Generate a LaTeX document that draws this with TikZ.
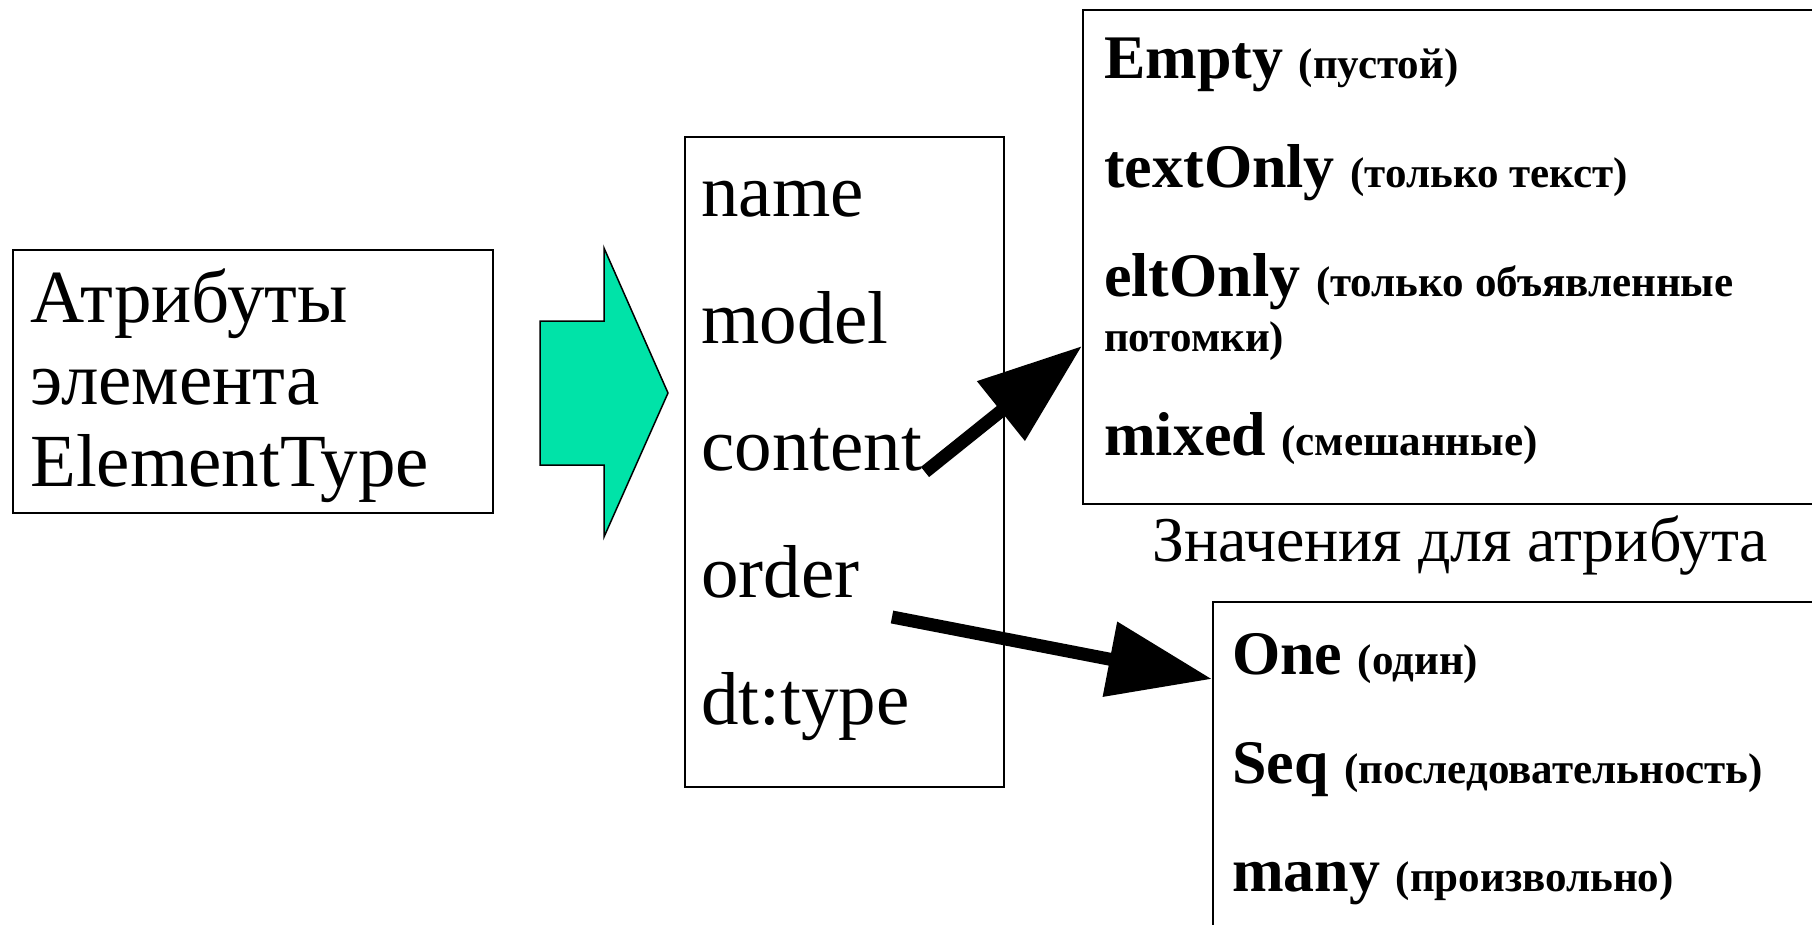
\documentclass[tikz,border=0pt]{standalone}
\usepackage{fontspec}
\setmainfont{Liberation Serif}
\usetikzlibrary{arrows.meta}
\definecolor{arrowgreen}{RGB}{0,227,168}
\newcommand\valbig{\fontsize{62}{68}\selectfont\bfseries}
\newcommand\valsmall{\fontsize{43}{48}\selectfont\bfseries}
\begin{document}
\begin{tikzpicture}[x=1pt,y=-1pt,
  box/.style={draw=black, line width=2pt, inner sep=0pt, anchor=north west},
  reg/.style={anchor=base west, inner sep=0pt, font=\fontsize{75}{80}\selectfont},
  captiontext/.style={anchor=base west, inner sep=0pt, font=\fontsize{63.8}{70}\selectfont},
  val/.style={anchor=base west, inner sep=0pt},
  fat/.style={line width=13pt, -{Triangle[length=104pt,width=73pt]}},
  bigarrow/.style={fill=arrowgreen, draw=black, line width=1.5pt, line join=miter}
]
\useasboundingbox (0,0) rectangle (1812,925);
\clip (0,0) rectangle (1812,925);

% boxes
\node[box, minimum width=480pt, minimum height=263pt] (attrbox) at (12,249) {};
\node[box, minimum width=319pt, minimum height=650pt] (listbox) at (684,136) {};
\node[box, minimum width=760pt, minimum height=494pt] (contentbox) at (1082,9) {};
\node[box, minimum width=640pt, minimum height=360pt] (orderbox) at (1212,601) {};

% block arrow
\draw[bigarrow] (540,321) -- (604,321) -- (604,248) -- (668,393) -- (604,537) -- (604,465) -- (540,465) -- cycle;

% left box text
\node[reg] (a1) at (30,322) {Атрибуты};
\node[reg] (a2) at (30,404) {элемента};
\node[reg] (a3) at (30,486) {ElementType};

% middle list
\node[reg] (name) at (701,217) {name};
\node[reg] (model) at (701,343) {model};
\node[reg] (content) at (701,470) {content};
\node[reg] (order) at (701,597) {order};
\node[reg] (dttype) at (701,724) {dt:type};

% content values
\node[val] (v1) at (1104,79) {\valbig Empty \valsmall(пустой)};
\node[val] (v2) at (1104,188) {\valbig textOnly \valsmall(только текст)};
\node[val] (v3) at (1104,297) {\valbig eltOnly \valsmall(только объявленные};
\node[val] (v4) at (1104,351) {\valsmall потомки)};
\node[val] (v5) at (1104,455) {\valbig mixed \valsmall(смешанные)};
\node[captiontext] (caption) at (1152,561) {Значения для атрибута};

% order values
\node[val] (o1) at (1232,674) {\valbig One \valsmall(один)};
\node[val] (o2) at (1232,783) {\valbig Seq \valsmall(последовательность)};
\node[val] (o3) at (1232,891) {\valbig many \valsmall(произвольно)};

% connectors
\coordinate (ctail) at (925,472);
\coordinate (ctip) at ([yshift=-337pt]contentbox.north west);
\coordinate (otail) at (892,617);
\coordinate (otip) at ([yshift=-78pt]orderbox.north west);
\draw[fat] (ctail) -- (ctip);
\draw[fat] (otail) -- (otip);
\end{tikzpicture}
\end{document}
